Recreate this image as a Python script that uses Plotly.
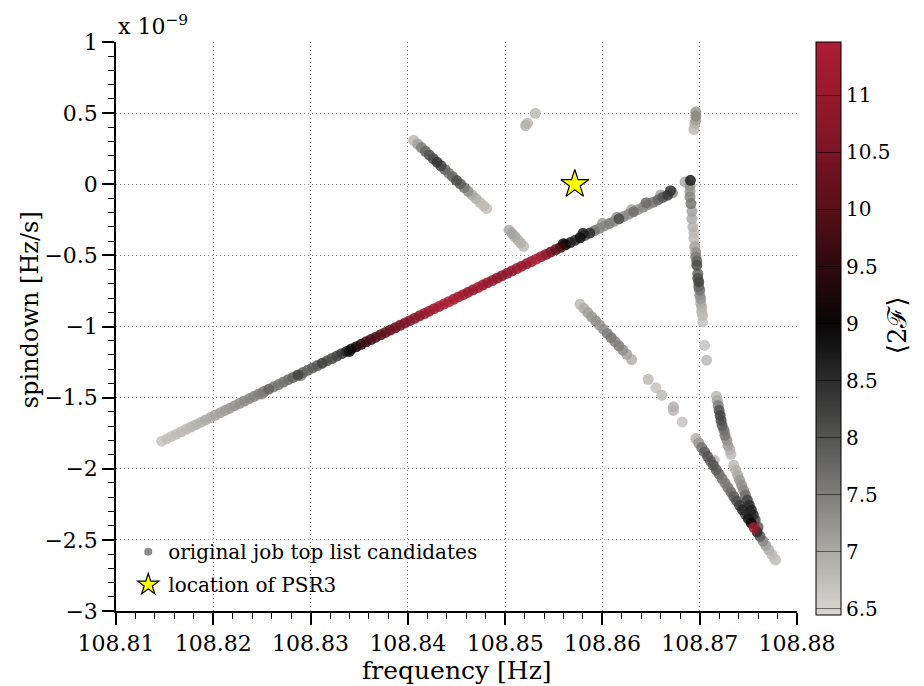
import numpy as np
import plotly.graph_objects as go

# ---------------- data (spindown in units of 1e-9 Hz/s) ----------------
# main long track
main_freq = [108.8147, 108.8152, 108.8157, 108.8162, 108.8167, 108.8172, 108.8177, 108.8182, 108.8187, 108.8192,
             108.8197, 108.8202, 108.8207, 108.8212, 108.8217, 108.8222, 108.8227, 108.8232, 108.8237, 108.8242,
             108.8247, 108.8252, 108.8257, 108.8262, 108.8267, 108.8272, 108.8277, 108.8282, 108.8287, 108.8292,
             108.8297, 108.8302, 108.8307, 108.8312, 108.8317, 108.8322, 108.8327, 108.8332, 108.8337, 108.8342,
             108.8347, 108.8352, 108.8357, 108.8362, 108.8367, 108.8372, 108.8377, 108.8382, 108.8387, 108.8392,
             108.8397, 108.8402, 108.8407, 108.8412, 108.8417, 108.8422, 108.8427, 108.8432, 108.8437, 108.8442,
             108.8447, 108.8452, 108.8457, 108.8462, 108.8467, 108.8472, 108.8477, 108.8482, 108.8487, 108.8492,
             108.8497, 108.8502, 108.8507, 108.8512, 108.8517, 108.8522, 108.8527, 108.8532, 108.8537, 108.8542,
             108.8547, 108.8552, 108.8557, 108.8562, 108.8567, 108.8572, 108.8577, 108.8582, 108.8587, 108.8592,
             108.8597, 108.8602, 108.8607, 108.8612, 108.8617, 108.8622, 108.8627, 108.8632, 108.8637, 108.8642,
             108.8647, 108.8652, 108.8657, 108.8662, 108.8667, 108.8672,
             108.8580, 108.8600, 108.8615, 108.8630, 108.8645, 108.8660, 108.8670, 108.8560, 108.8340, 108.8290,
             108.8250, 108.86905, 108.8685]
main_sd = [-1.806, -1.790, -1.773, -1.757, -1.740, -1.723, -1.707, -1.690, -1.674, -1.657,
           -1.640, -1.624, -1.607, -1.590, -1.574, -1.557, -1.540, -1.524, -1.507, -1.491,
           -1.474, -1.457, -1.441, -1.424, -1.408, -1.391, -1.374, -1.358, -1.341, -1.324,
           -1.308, -1.291, -1.275, -1.258, -1.241, -1.225, -1.208, -1.191, -1.175, -1.158,
           -1.142, -1.125, -1.108, -1.092, -1.075, -1.058, -1.042, -1.025, -1.009, -0.992,
           -0.975, -0.959, -0.942, -0.925, -0.909, -0.892, -0.875, -0.859, -0.842, -0.826,
           -0.809, -0.792, -0.776, -0.759, -0.742, -0.726, -0.709, -0.692, -0.676, -0.659,
           -0.643, -0.626, -0.609, -0.593, -0.576, -0.559, -0.543, -0.526, -0.509, -0.493,
           -0.476, -0.459, -0.443, -0.426, -0.410, -0.393, -0.376, -0.360, -0.343, -0.326,
           -0.310, -0.293, -0.276, -0.260, -0.243, -0.226, -0.210, -0.193, -0.177, -0.160,
           -0.143, -0.127, -0.110, -0.093, -0.077, -0.060,
           -0.345, -0.275, -0.232, -0.178, -0.130, -0.075, -0.045, -0.418, -1.175, -1.345,
           -1.475, 0.028, 0.016]
main_2f = [6.70, 6.72, 6.75, 6.78, 6.80, 6.83, 6.86, 6.90, 6.93, 6.97,
           7.00, 7.05, 7.10, 7.15, 7.20, 7.25, 7.30, 7.35, 7.40, 7.45,
           7.50, 7.55, 7.85, 7.55, 7.60, 7.65, 7.70, 7.85, 8.20, 7.80,
           7.85, 7.90, 7.95, 8.25, 8.00, 8.10, 8.20, 8.35, 8.60, 8.95,
           9.20, 9.40, 9.60, 9.75, 9.90, 10.0, 10.1, 10.2, 10.3, 10.4,
           10.5, 10.6, 10.7, 10.8, 10.9, 11.0, 11.1, 11.2, 11.3, 11.4,
           11.3, 11.2, 11.0, 10.9, 11.0, 11.1, 10.9, 10.8, 10.9, 10.8,
           10.7, 10.8, 10.9, 11.0, 10.8, 11.0, 11.2, 11.6, 11.0, 10.6,
           10.3, 10.0, 9.6, 9.1, 8.7, 8.4, 8.9, 8.0, 8.5, 7.6,
           7.4, 7.3, 7.5, 7.3, 8.1, 7.4, 7.3, 7.7, 7.2, 7.4,
           7.3, 7.5, 7.8, 8.0, 8.3, 7.3,
           8.7, 7.1, 7.2, 7.0, 7.7, 7.1, 8.4, 9.0, 8.8, 7.4,
           7.2, 8.7, 7.0]

# short upper-left track
a_freq = [108.8406, 108.8410, 108.8414, 108.8418, 108.8422, 108.8426, 108.8430, 108.8434, 108.8438, 108.8442,
          108.8446, 108.8450, 108.8454, 108.8458, 108.8462, 108.8466, 108.8470, 108.8474, 108.8478, 108.8481]
a_sd = [0.309, 0.283, 0.258, 0.232, 0.206, 0.181, 0.155, 0.130, 0.104, 0.078,
        0.053, 0.027, 0.002, -0.024, -0.050, -0.075, -0.101, -0.127, -0.152, -0.171]
a_2f = [6.8, 7.1, 7.5, 7.8, 8.0, 8.1, 8.4, 8.2, 7.8, 7.6,
        7.8, 8.1, 7.9, 7.6, 7.3, 7.0, 6.9, 6.8, 6.8, 6.7]

# small fragments
b_freq = [108.8531, 108.8523, 108.8521, 108.8504, 108.8507, 108.8510, 108.8513, 108.8516, 108.8519]
b_sd = [0.499, 0.429, 0.413, -0.323, -0.345, -0.368, -0.391, -0.413, -0.436]
b_2f = [6.8, 6.8, 6.9, 7.0, 7.1, 7.0, 6.9, 6.9, 6.8]

# middle descending track and isolated dots
d_freq = [108.8577, 108.8581, 108.8585, 108.8589, 108.8593, 108.8597, 108.8601, 108.8605, 108.8609, 108.8613,
          108.8617, 108.8621, 108.8625, 108.8630,
          108.8647, 108.8655, 108.8661, 108.8673, 108.8673, 108.8682]
d_sd = [-0.844, -0.873, -0.902, -0.932, -0.961, -0.990, -1.019, -1.049, -1.078, -1.107,
        -1.136, -1.166, -1.195, -1.232,
        -1.371, -1.430, -1.483, -1.565, -1.590, -1.671]
d_2f = [6.8, 7.0, 7.1, 7.2, 7.3, 7.2, 7.3, 7.5, 7.6, 7.4,
        7.5, 7.3, 7.1, 6.9,
        6.8, 6.7, 6.8, 6.9, 6.8, 6.7]

# near-vertical track
e_freq = [108.8696, 108.8696, 108.8696, 108.8695, 108.8694,
          108.8690, 108.8690, 108.8690, 108.8691, 108.8692, 108.8692, 108.8693, 108.8694, 108.8694, 108.8695,
          108.8696, 108.8696, 108.8697, 108.8697, 108.8698, 108.8698, 108.8699, 108.8699, 108.8700, 108.8700,
          108.8701, 108.8701, 108.8702, 108.8702, 108.8703, 108.8703, 108.8705, 108.8707]
e_sd = [0.508, 0.480, 0.450, 0.427, 0.385,
        -0.010, -0.050, -0.089, -0.136, -0.190, -0.241, -0.300, -0.340, -0.382, -0.440,
        -0.480, -0.511, -0.540, -0.569, -0.628, -0.660, -0.687, -0.720, -0.745, -0.780,
        -0.804, -0.835, -0.862, -0.895, -0.921, -0.968, -1.132, -1.237]
e_2f = [7.2, 7.4, 7.1, 6.9, 6.8,
        7.3, 7.2, 7.4, 7.6, 7.1, 7.0, 6.9, 6.8, 6.8, 7.1,
        7.3, 7.5, 7.8, 8.1, 7.8, 8.0, 8.2, 7.8, 7.6, 7.3,
        7.2, 7.0, 6.9, 6.8, 6.8, 6.7, 6.7, 6.8]

# lower-right tracks
f_freq = [108.8717, 108.8718, 108.8719, 108.8720, 108.8721, 108.8722, 108.8723, 108.8725, 108.8726, 108.8728,
          108.8729, 108.8731, 108.8732,
          108.8696, 108.8699, 108.8702, 108.8705, 108.8708, 108.8711, 108.8714, 108.8717, 108.8720, 108.8723,
          108.8726, 108.8729, 108.8732, 108.8735, 108.8738, 108.8741, 108.8744, 108.8747, 108.8750, 108.8753,
          108.8756, 108.8759, 108.8762, 108.8765, 108.8768, 108.8771, 108.8774, 108.8777, 108.8778,
          108.8735, 108.8737, 108.8739, 108.8741, 108.8743, 108.8745, 108.8747, 108.8749, 108.8751, 108.8753,
          108.8755, 108.8757, 108.8760, 108.8715]
f_sd = [-1.490, -1.520, -1.555, -1.590, -1.625, -1.660, -1.695, -1.730, -1.765, -1.800,
        -1.835, -1.865, -1.898,
        -1.788, -1.819, -1.851, -1.882, -1.913, -1.945, -1.976, -2.007, -2.038, -2.070,
        -2.101, -2.132, -2.164, -2.195, -2.226, -2.257, -2.289, -2.320, -2.351, -2.383,
        -2.414, -2.445, -2.476, -2.508, -2.539, -2.570, -2.601, -2.633, -2.643,
        -1.975, -2.010, -2.045, -2.080, -2.115, -2.150, -2.185, -2.220, -2.255, -2.290,
        -2.325, -2.360, -2.410, -1.940]
f_2f = [6.8, 7.0, 7.5, 8.0, 8.2, 8.1, 7.9, 7.7, 7.6, 7.3,
        7.1, 6.9, 6.8,
        6.9, 7.2, 7.6, 7.9, 8.0, 7.9, 8.0, 7.9, 7.7, 7.6,
        7.5, 7.6, 7.7, 7.9, 8.1, 8.3, 8.6, 8.3, 8.8, 9.0,
        11.2, 8.5, 7.9, 7.4, 7.1, 6.9, 6.8, 6.7, 6.7,
        6.8, 6.9, 7.0, 7.2, 7.3, 7.4, 7.7, 8.2, 8.5, 8.7,
        8.5, 8.1, 7.9, 6.8]

psr3_freq = [108.85716]
psr3_sd = [0.0]

x_ticks = [108.81, 108.82, 108.83, 108.84, 108.85, 108.86, 108.87, 108.88]
cb_ticks = [6.5, 7, 7.5, 8, 8.5, 9, 9.5, 10, 10.5, 11]
cb_ticktext = ["6.5", "7", "7.5", "8", "8.5", "9", "9.5", "10", "10.5", "11"]

# ---------------- assemble ----------------
freq = np.array(main_freq + a_freq + b_freq + d_freq + e_freq + f_freq)
sd = np.array(main_sd + a_sd + b_sd + d_sd + e_sd + f_sd)
twoF = np.array(main_2f + a_2f + b_2f + d_2f + e_2f + f_2f)
order = np.argsort(twoF, kind="stable")

CMIN, CMAX = 6.45, 11.47
def n(v):
    return (v - CMIN) / (CMAX - CMIN)

colorscale = [
    [0.0, "rgb(218,215,210)"],
    [n(7.0), "rgb(172,170,165)"],
    [n(7.5), "rgb(127,126,123)"],
    [n(8.0), "rgb(84,84,83)"],
    [n(8.5), "rgb(44,44,44)"],
    [n(9.0), "rgb(8,6,6)"],
    [n(9.5), "rgb(45,9,14)"],
    [n(10.0), "rgb(86,15,24)"],
    [n(10.5), "rgb(122,20,36)"],
    [n(11.0), "rgb(152,25,45)"],
    [1.0, "rgb(172,29,52)"],
]

FONT = "DejaVu Serif"

fig = go.Figure()
fig.add_trace(go.Scatter(
    x=freq[order], y=sd[order], mode="markers", showlegend=False,
    marker=dict(size=11, color=twoF[order], colorscale=colorscale, cmin=CMIN, cmax=CMAX,
                opacity=0.85, line=dict(width=0),
                colorbar=dict(
                    x=1.028, xanchor="left", y=0.497, yanchor="middle",
                    len=573, lenmode="pixels", ypad=0, xpad=0,
                    thickness=25, outlinecolor="black", outlinewidth=1,
                    tickvals=cb_ticks, ticktext=cb_ticktext,
                    ticks="inside", ticklen=25, tickwidth=1, tickcolor="rgba(0,0,0,0.5)",
                    tickfont=dict(family=FONT, size=20, color="black"),
                )),
    hoverinfo="skip",
))
fig.add_trace(go.Scatter(
    x=[None], y=[None], mode="markers", name="original job top list candidates",
    legendgroup="cand", marker=dict(size=8, color="#8c8c8c"),
))
fig.add_trace(go.Scatter(
    x=psr3_freq, y=psr3_sd, mode="markers", name="location of PSR3", legendgroup="psr",
    marker=dict(symbol="star", size=21, color="#ffff00", line=dict(color="black", width=1.2)),
))

axis_common = dict(
    showline=True, linecolor="black", linewidth=1.5, mirror=False,
    ticks="outside", ticklen=12, tickwidth=1.5, tickcolor="black",
    showgrid=True, gridcolor="#8a8a8a", griddash="1px,3px", gridwidth=1,
    zeroline=False,
    tickfont=dict(family=FONT, size=22, color="black"),
)

# The page body adds an 8px offset, so the figure is 8px smaller than the window.
fig.update_layout(
    width=916, height=678,
    margin=dict(l=108, r=127, t=34, b=75, autoexpand=False),
    paper_bgcolor="white", plot_bgcolor="white",
    xaxis=dict(range=[108.81, 108.88], tickvals=x_ticks,
               ticktext=[f"{v:.2f}" for v in x_ticks],
               minor=dict(dtick=0.002, tick0=108.81, ticks="outside", ticklen=6,
                          tickwidth=1.2, tickcolor="black", showgrid=False),
               **axis_common),
    yaxis=dict(range=[-3, 1], dtick=0.5, tick0=0,
               minor=dict(dtick=0.1, tick0=0, ticks="outside", ticklen=6,
                          tickwidth=1.2, tickcolor="black", showgrid=False),
               **axis_common),
    legend=dict(x=0.018, y=0.012, xanchor="left", yanchor="bottom",
                bgcolor="rgba(255,255,255,0)", borderwidth=0, tracegroupgap=4,
                font=dict(family=FONT, size=20, color="black"),
                itemsizing="trace"),
    annotations=[
        dict(text="frequency [Hz]", xref="paper", yref="paper", x=0.5, y=-0.1045,
             showarrow=False, xanchor="center", yanchor="middle",
             font=dict(family=FONT, size=25, color="black")),
        dict(text="spindown [Hz/s]", xref="paper", yref="paper", x=-0.126, y=0.529,
             textangle=-90, showarrow=False, xanchor="center", yanchor="middle",
             font=dict(family=FONT, size=24, color="black")),
        dict(text="x 10<sup>−9</sup>", xref="paper", yref="paper", x=0.0, y=1.0,
             xanchor="left", yanchor="bottom", showarrow=False, yshift=1,
             font=dict(family=FONT, size=22, color="black")),
        dict(text="⟨2ℱ⟩", xref="paper", yref="paper", x=1.146, y=0.503,
             textangle=-90, showarrow=False, xanchor="center", yanchor="middle",
             font=dict(family=FONT, size=26, color="black")),
    ],
)

fig.write_html("out.html")
